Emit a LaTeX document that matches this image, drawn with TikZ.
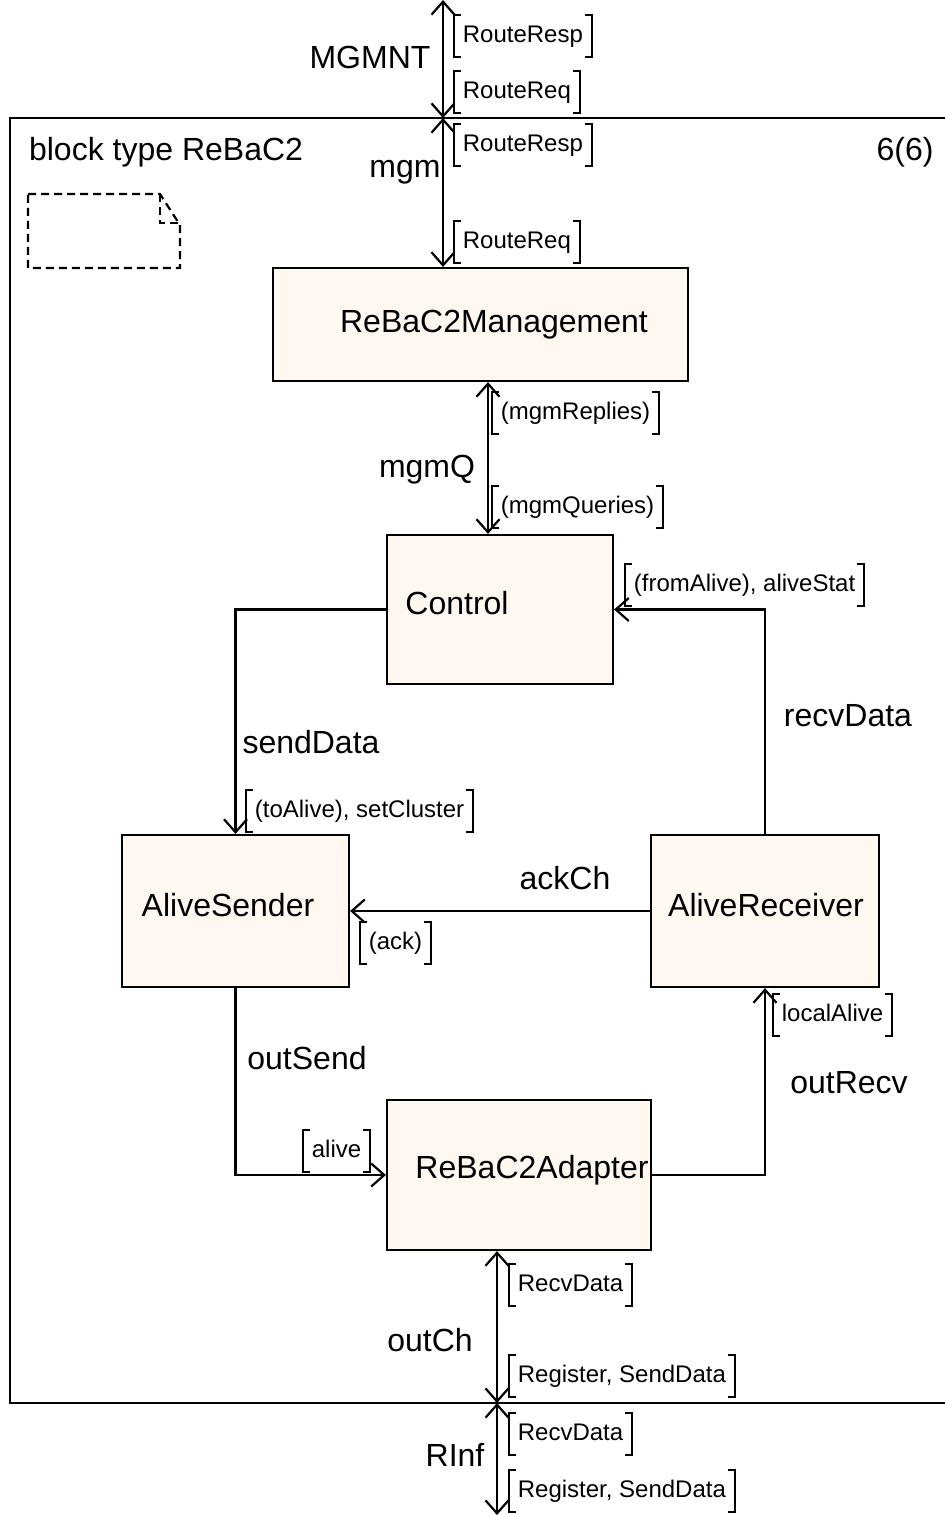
\documentclass[tikz,border=0pt]{standalone}
\usepackage{fontspec}
\setmainfont{Liberation Sans}
\usetikzlibrary{arrows.meta,positioning}
\newcommand{\bigfont}{\fontsize{16}{19}\selectfont}
\newcommand{\sigfont}{\fontsize{12}{14}\selectfont}
\definecolor{boxfill}{RGB}{255,248,240}
\tikzset{
  lineStyle/.style={line width=1.1pt, >={Straight Barb[length=6.5pt,width=11.5pt]}},
  sigStyle/.style={font=\sigfont, inner xsep=4pt, inner ysep=4.25pt,
    text height=9pt, text depth=3pt, anchor=west, line width=0.85pt,
    append after command={
      ([xshift=3.5pt]\tikzlastnode.north west) -- (\tikzlastnode.north west)
      -- (\tikzlastnode.south west) -- ([xshift=3.5pt]\tikzlastnode.south west)
      ([xshift=-3.5pt]\tikzlastnode.north east) -- (\tikzlastnode.north east)
      -- (\tikzlastnode.south east) -- ([xshift=-3.5pt]\tikzlastnode.south east)
    }
  }
}

\begin{document}
\begin{tikzpicture}[x=0.5pt, y=-0.5pt, lineStyle]
\tikzstyle{boxStyle}=[shape = rectangle, draw, fill=boxfill, line width=1.1pt,
inner sep = 0pt]
\tikzstyle{labStyle}=[font=\bigfont, inner sep=0pt]

\useasboundingbox (0,0) rectangle (945,1515);

% frame and note symbol
\draw (10,118) rectangle (960,1403);
\draw[dash pattern=on 4pt off 2.5pt] (28,194) -- (160,194) -- (180,225)
  -- (180,268) -- (28,268) -- cycle;
\draw[dash pattern=on 4pt off 2.5pt] (160,194) -- (160,223) -- (180,223);

\node[labStyle, anchor=west] (bname) at (28,152) {block type ReBaC2};
\node[labStyle] (pg) at (905,152) {6(6)};

% processes
\node[boxStyle, minimum width=207.5pt, minimum height=56.5pt] (mgmt) at (480.5,324.5) {};
\node[boxStyle, minimum width=113pt, minimum height=74.5pt] (ctrl) at (500,609.5) {};
\node[boxStyle, minimum width=113.5pt, minimum height=76pt] (sender) at (235.5,911) {};
\node[boxStyle, minimum width=114pt, minimum height=76pt] (receiver) at (765,911) {};
\node[boxStyle, minimum width=132pt, minimum height=75pt] (adapter) at (519,1175) {};

\node[labStyle] (mgmtT) at (494,325) {ReBaC2Management};
\node[labStyle] (ctrlT) at (457,603) {Control};
\node[labStyle] (senderT) at (228,905) {AliveSender};
\node[labStyle] (receiverT) at (766,905) {AliveReceiver};
\node[labStyle] (adapterT) at (532,1170) {ReBaC2Adapter};

% channel end points
\coordinate (envTop) at (443,0);
\coordinate (gateTop) at (443,118);
\coordinate (qx) at (488,0);
\coordinate (gateBot) at (497,1403);
\coordinate (envBot) at (497,1515);

% channels
\draw[<->] (envTop) -- (gateTop);
\draw[<->] (gateTop) -- (mgmt.north -| gateTop);
\draw[<->] (mgmt.south -| qx) -- (ctrl.north -| qx);
\draw[->] (ctrl.west) -| (sender.north);
\draw[->] (receiver.north) |- (ctrl.east);
\draw[->] (receiver.west) -- (sender.east);
\draw[->] (sender.south) |- (adapter.west);
\draw[->] (adapter.east) -| (receiver.south);
\draw[<->] (adapter.south -| gateBot) -- (gateBot);
\draw[<->] (gateBot) -- (envBot);

% channel names
\node[labStyle] (nMGMNT) at (370,57) {MGMNT};
\node[labStyle] (nmgm) at (405,172) {mgm};
\node[labStyle] (nmgmQ) at (427,470) {mgmQ};
\node[labStyle] (nsend) at (311,742) {sendData};
\node[labStyle] (nrecv) at (848,716) {recvData};
\node[labStyle] (nack) at (565,878) {ackCh};
\node[labStyle] (noutS) at (307,1058) {outSend};
\node[labStyle] (noutR) at (849,1083) {outRecv};
\node[labStyle] (noutCh) at (430,1340) {outCh};
\node[labStyle] (nRInf) at (455,1455) {RInf};

% signal lists
\draw (454,36) node[sigStyle] (sResp1) {RouteResp};
\draw (454,92) node[sigStyle] (sReq1) {RouteReq};
\draw (454,145) node[sigStyle] (sResp2) {RouteResp};
\draw (454,242) node[sigStyle] (sReq2) {RouteReq};
\draw (492,413) node[sigStyle] (sReplies) {(mgmReplies)};
\draw (492,507) node[sigStyle] (sQueries) {(mgmQueries)};
\draw (625,585) node[sigStyle] (sFrom) {(fromAlive), aliveStat};
\draw (246,811) node[sigStyle] (sTo) {(toAlive), setCluster};
\draw (360,943) node[sigStyle] (sAck) {(ack)};
\draw (303,1151) node[sigStyle] (sAlive) {alive};
\draw (773,1015) node[sigStyle] (sLocal) {localAlive};
\draw (509,1285) node[sigStyle] (sRecv1) {RecvData};
\draw (509,1376) node[sigStyle] (sReg1) {Register, SendData};
\draw (509,1434) node[sigStyle] (sRecv2) {RecvData};
\draw (509,1491) node[sigStyle] (sReg2) {Register, SendData};
\end{tikzpicture}
\end{document}
